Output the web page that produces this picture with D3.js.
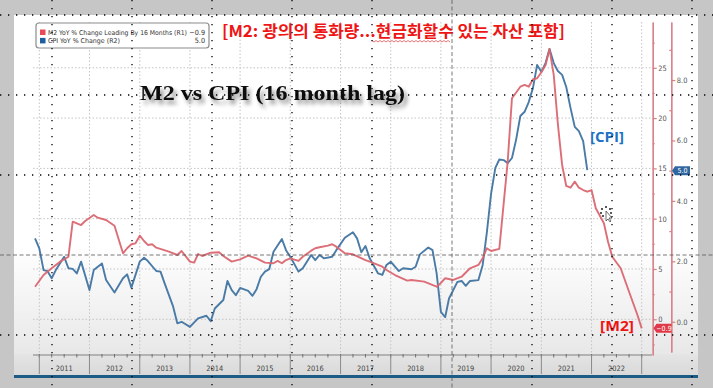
<!DOCTYPE html>
<html><head><meta charset="utf-8">
<script src="https://cdn.jsdelivr.net/npm/d3@7"></script>
<style>body{margin:0;background:#c6c6c6}svg{display:block}</style>
</head><body>
<svg id="c" width="713" height="388"></svg>
<script>
// ---------------- data ----------------
const m2Months = ["2010-12","2011-02","2011-04","2011-06","2011-08","2011-09","2011-11","2011-12","2012-02","2012-03","2012-05","2012-07","2012-09","2012-10","2012-11","2012-12","2013-01","2013-02","2013-03","2013-04","2013-05","2013-08","2013-10","2013-11","2014-01","2014-02","2014-03","2014-04","2014-06","2014-08","2014-09","2014-11","2015-01","2015-03","2015-05","2015-07","2015-09","2015-10","2015-11","2015-12","2016-01","2016-03","2016-04","2016-06","2016-07","2016-08","2016-10","2016-11","2016-12","2017-02","2017-04","2017-07","2017-08","2017-11","2017-12","2018-02","2018-05","2018-06","2018-09","2018-12","2019-01","2019-02","2019-04","2019-06","2019-08","2019-10","2019-11","2019-12","2020-01","2020-03","2020-05","2020-06","2020-08","2020-09","2020-10","2020-11","2020-12","2021-01","2021-02","2021-03","2021-04","2021-05","2021-06","2021-07","2021-08","2021-09","2021-10","2021-11","2021-12","2022-01","2022-02","2022-04","2022-05","2022-06","2022-08","2022-10","2022-12","2023-01"];
const m2Values = [3.24,4.40,5.07,5.73,6.22,9.70,9.37,9.77,10.37,10.10,9.87,9.30,6.56,7.06,7.46,7.55,8.31,7.78,7.39,7.46,7.12,6.72,6.39,6.79,5.73,5.63,6.49,6.29,6.62,6.66,6.29,5.73,5.96,6.32,6.06,5.63,5.57,5.80,5.57,5.89,6.06,5.80,6.22,6.82,7.06,7.16,7.32,7.46,7.22,6.56,6.46,5.89,5.73,5.23,4.90,4.40,3.84,3.91,3.74,3.24,3.61,4.08,3.91,4.23,5.07,5.40,6.06,7.06,6.79,7.00,15.67,21.97,23.12,23.29,23.12,23.86,23.96,24.55,25.28,26.87,24.29,19.41,15.34,13.25,13.08,13.68,13.08,12.85,12.68,12.85,11.03,9.54,7.71,6.22,5.07,2.74,0.43,-0.9];

const cpiMonths = ["2010-12","2011-01","2011-02","2011-03","2011-04","2011-05","2011-07","2011-08","2011-09","2011-10","2011-11","2012-01","2012-02","2012-04","2012-05","2012-07","2012-09","2012-10","2012-11","2013-01","2013-02","2013-03","2013-05","2013-06","2013-07","2013-09","2013-10","2013-11","2014-01","2014-03","2014-05","2014-06","2014-07","2014-09","2014-10","2014-11","2014-12","2015-01","2015-03","2015-04","2015-05","2015-06","2015-07","2015-08","2015-09","2015-11","2015-12","2016-01","2016-03","2016-04","2016-06","2016-07","2016-08","2016-09","2016-11","2016-12","2017-02","2017-04","2017-05","2017-06","2017-07","2017-08","2017-10","2017-11","2017-12","2018-01","2018-03","2018-04","2018-06","2018-07","2018-08","2018-10","2018-11","2018-12","2019-01","2019-02","2019-03","2019-05","2019-06","2019-07","2019-08","2019-10","2019-11","2019-12","2020-01","2020-02","2020-03","2020-04","2020-05","2020-06","2020-07","2020-08","2020-09","2020-10","2020-11","2020-12","2021-01","2021-02","2021-03","2021-04","2021-05","2021-06","2021-07","2021-08","2021-09","2021-10","2021-11","2021-12"];
const cpiValues = [2.76,2.43,1.71,1.68,1.44,1.71,2.15,1.77,1.75,1.60,1.99,1.05,1.71,1.93,1.38,0.97,1.44,1.57,1.13,1.99,2.12,2.01,1.68,1.66,1.27,0.50,-0.05,0.00,-0.17,0.11,0.20,0.02,0.44,0.72,1.35,1.05,0.88,1.12,1.02,0.86,1.08,1.49,1.66,1.74,2.32,2.74,2.37,2.15,1.66,1.77,2.21,2.04,2.21,2.10,2.15,2.37,2.78,2.96,2.76,2.30,2.51,2.10,1.60,1.55,1.88,1.99,1.68,1.77,1.74,1.82,2.23,2.46,2.37,1.60,0.33,0.15,0.77,1.32,1.35,1.19,1.35,1.38,1.88,2.94,4.23,5.09,5.37,5.35,5.25,5.42,6.02,6.81,6.95,7.27,7.74,8.50,8.27,8.57,9.03,8.56,8.30,8.17,7.77,7.08,6.45,6.31,5.98,5.02];

const years = [2011,2012,2013,2014,2015,2016,2017,2018,2019,2020,2021,2022];
const r1Ticks = [0,5,10,15,20,25];
const r1Minor = [-2.5,2.5,7.5,12.5,17.5,22.5,27.5];
const r2Ticks = [0,2,4,6,8];
const r2Minor = [1,3,5,7,9];
const legendLabels = ["M2 YoY % Change Leading By 16 Months (R1)","CPI YoY % Change (R2)"];
const lastM2 = -0.9, lastCPI = 5.0;

// ---------------- setup ----------------
const svg = d3.select("#c");
const parse = d3.timeParse("%Y-%m");
const RED = "#da6670", BLUE = "#4a7aa6";

const x = d3.scaleTime().domain([new Date(2011,0,1), new Date(2023,0,1)]).range([39.3, 641.7]);
const yR1 = d3.scaleLinear().domain([-3.55, 29.55]).range([355, 22]);
const yR2 = d3.scaleLinear().domain([-1.0, 9.92]).range([352, 22]);

const defs = svg.append("defs");
const g1 = defs.append("linearGradient").attr("id","bg").attr("x1",0).attr("y1",0).attr("x2",0).attr("y2",1);
g1.append("stop").attr("offset","0").attr("stop-color","#ffffff");
g1.append("stop").attr("offset","0.64").attr("stop-color","#ffffff");
g1.append("stop").attr("offset","0.80").attr("stop-color","#f3f3f3");
g1.append("stop").attr("offset","0.94").attr("stop-color","#e8e8e8");
g1.append("stop").attr("offset","0.945").attr("stop-color","#e4e4e4");
g1.append("stop").attr("offset","1").attr("stop-color","#d9d9d9");
const f = defs.append("filter").attr("id","sh").attr("x","-10%").attr("y","-30%").attr("width","130%").attr("height","180%");
f.append("feDropShadow").attr("dx",3).attr("dy",4).attr("stdDeviation",2.2).attr("flood-color","#000").attr("flood-opacity",0.45);

// panel
svg.append("rect").attr("x",0).attr("y",0).attr("width",713).attr("height",388).attr("fill","#c6c6c6");
svg.append("rect").attr("x",14).attr("y",15).attr("width",684).attr("height",360).attr("fill","url(#bg)");
svg.append("rect").attr("x",14).attr("y",375).attr("width",684).attr("height",3).attr("fill","#1b5b86");

// grid
const grid = svg.append("g");
grid.selectAll("line.h").data(r1Ticks).join("line")
  .attr("x1",33).attr("x2",652).attr("y1",d=>yR1(d)).attr("y2",d=>yR1(d))
  .attr("stroke","#c4c4c4").attr("stroke-width",1).attr("stroke-dasharray","1.5,2");
const yearStarts = years.map(y=>new Date(y,0,1)).concat([new Date(2023,0,1)]);
grid.selectAll("line.v").data(yearStarts).join("line")
  .attr("x1",d=>x(d)).attr("x2",d=>x(d)).attr("y1",22).attr("y2",355)
  .attr("stroke","#c4c4c4").attr("stroke-width",1).attr("stroke-dasharray","1.5,2");

// x axis
svg.append("line").attr("x1",33).attr("x2",652).attr("y1",355).attr("y2",355).attr("stroke","#808080");
const quarters = d3.timeMonth.range(new Date(2011,0,1), new Date(2023,0,2), 3);
svg.append("g").selectAll("line").data(quarters).join("line")
  .attr("x1",d=>x(d)).attr("x2",d=>x(d)).attr("y1",354).attr("y2",357.5).attr("stroke","#707070");
svg.append("g").selectAll("line").data(yearStarts).join("line")
  .attr("x1",d=>x(d)).attr("x2",d=>x(d)).attr("y1",355).attr("y2",374).attr("stroke","#8a8a8a");
svg.append("g").selectAll("text").data(years).join("text")
  .attr("x",d=>x(new Date(d,6,1))).attr("y",371).attr("text-anchor","middle")
  .attr("font-family","DejaVu Sans Condensed, DejaVu Sans").attr("font-size",7.4).attr("fill","#444").text(d=>d);

// lines
const line = (months, vals, sc) => d3.line().x((d,i)=>x(parse(months[i]))).y((d,i)=>sc(vals[i]))(vals);
svg.append("path").attr("d",line(cpiMonths,cpiValues,yR2)).attr("fill","none").attr("stroke",BLUE).attr("stroke-width",1.9).attr("stroke-linejoin","round");
svg.append("path").attr("d",line(m2Months,m2Values,yR1)).attr("fill","none").attr("stroke",RED).attr("stroke-width",1.9).attr("stroke-linejoin","round").attr("opacity",0.95);

// right axes
function styleAxis(g, col){
  g.select(".domain").attr("stroke",col).attr("stroke-width",1.2);
  g.selectAll(".tick line").attr("stroke",col).attr("stroke-width",1.2);
  g.selectAll(".tick text").attr("fill","#555").attr("font-family","DejaVu Sans Condensed, DejaVu Sans").attr("font-size",7.4);
}
const a1 = svg.append("g").attr("transform","translate(652.7,0)")
  .call(d3.axisRight(yR1).tickValues(r1Ticks).tickSize(4).tickSizeOuter(0).tickPadding(1.5).tickFormat(d3.format("d")));
styleAxis(a1,"#d77f86");
const a1m = svg.append("g").attr("transform","translate(652.7,0)")
  .call(d3.axisRight(yR1).tickValues(r1Minor).tickSize(2).tickSizeOuter(0).tickFormat(""));
styleAxis(a1m,"#d77f86");
const a2 = svg.append("g").attr("transform","translate(671.3,0)")
  .call(d3.axisRight(yR2).tickValues(r2Ticks).tickSize(4).tickSizeOuter(0).tickPadding(1.5).tickFormat(d3.format(".1f")));
styleAxis(a2,"#d77f86");
const a2m = svg.append("g").attr("transform","translate(671.3,0)")
  .call(d3.axisLeft(yR2).tickValues(r2Minor).tickSize(2).tickSizeOuter(0).tickFormat(""));
styleAxis(a2m,"#d77f86");

// value flags
function flag(xl, yc, w, col, txt){
  const g = svg.append("g");
  g.append("path").attr("d",`M${xl},${yc} L${xl+3},${yc-4.5} L${xl+w},${yc-4.5} L${xl+w},${yc+4.5} L${xl+3},${yc+4.5} Z`).attr("fill",col);
  g.append("text").attr("x",xl+3+(w-3)/2).attr("y",yc+2.6).attr("text-anchor","middle").attr("fill","#fff")
   .attr("font-family","DejaVu Sans Condensed, DejaVu Sans").attr("font-size",7).text(txt);
}
flag(653.5, yR1(lastM2), 18, "#e03a48", d3.format(".1f")(lastM2));
flag(672, yR2(lastCPI), 18, "#2f66a0", d3.format(".1f")(lastCPI));

// legend
const lg = svg.append("g");
lg.append("rect").attr("x",36).attr("y",23).attr("width",173).attr("height",25).attr("rx",3)
  .attr("fill","#fff").attr("stroke","#8c8c8c").attr("stroke-width",1.2);
[[RED,"#e84a55"],[BLUE,"#1f5e9e"]].forEach((c,i)=>{
  lg.append("rect").attr("x",40).attr("y",29.5+i*8.4).attr("width",5.5).attr("height",5.5).attr("fill",c[1]);
  lg.append("text").attr("x",48).attr("y",35+i*8.4).attr("font-family","DejaVu Sans Condensed, DejaVu Sans")
    .attr("font-size",6.6).attr("fill","#333").attr("textLength",i==0?139:72).attr("lengthAdjust","spacingAndGlyphs").text(legendLabels[i]);
  lg.append("text").attr("x",205).attr("y",35+i*8.4).attr("text-anchor","end").attr("font-family","DejaVu Sans Condensed, DejaVu Sans")
    .attr("font-size",7.2).attr("fill","#333").text(d3.format(".1f")(i==0?lastM2:lastCPI));
});

// annotations
svg.append("text").attr("x",222).attr("y",37).attr("font-family","Noto Sans CJK KR").attr("font-weight","bold")
  .attr("font-size",16).attr("fill","#ee1515").attr("textLength",343).attr("lengthAdjust","spacingAndGlyphs")
  .text("[M2: 광의의 통화량...현금화할수 있는 자산 포함]");
(function(){
  let p = "M372,40.5"; for(let xx=372, k=0; xx<450; xx+=2, k++){ p += ` L${xx+2},${k%2?40.5:42}`; }
  svg.append("path").attr("d",p).attr("fill","none").attr("stroke","#e23a3a").attr("stroke-width",0.7);
})();
svg.append("text").attr("x",140).attr("y",100).attr("font-family","Liberation Serif, Times New Roman, serif").attr("font-weight","bold")
  .attr("font-size",22).attr("fill","#111").attr("filter","url(#sh)").attr("textLength",265).attr("lengthAdjust","spacingAndGlyphs")
  .text("M2 vs CPI (16 month lag)");
svg.append("text").attr("x",590).attr("y",142).attr("font-family","Open Sans, Noto Sans").attr("font-weight","bold")
  .attr("font-size",14).attr("fill","#1d72c4").attr("textLength",34).attr("lengthAdjust","spacingAndGlyphs").text("[CPI]");
svg.append("text").attr("x",600).attr("y",331).attr("font-family","Open Sans, Noto Sans").attr("font-weight","bold")
  .attr("font-size",15).attr("fill","#ee1515").attr("textLength",34).attr("lengthAdjust","spacingAndGlyphs").text("[M2]");

// cursor mark
const cur = svg.append("g").attr("transform","translate(606,213)");
[[-4,-4],[0,-6],[4,-4],[-5,0],[5,0],[-3,3]].forEach(d=>cur.append("circle").attr("cx",d[0]).attr("cy",d[1]).attr("r",1).attr("fill","#222"));
cur.append("path").attr("d","M0,-2 L0,8 L2,6 L4,9 L5,8 L3,5 L6,5 Z").attr("fill","#fff").attr("stroke","#333").attr("stroke-width",0.7);

// overlay guide grid
const ov = svg.append("g");
const vx = d3.range(52, 713, 80), hy = d3.range(15, 388, 80);
ov.selectAll("line.v").data(vx).join("line").attr("x1",d=>d).attr("x2",d=>d).attr("y1",0).attr("y2",388)
  .attr("stroke",d=>d===452?"#555":"#000").attr("stroke-width",d=>d===452?0.8:1.3)
  .attr("stroke-dasharray",d=>d===452?"4,2.5":"1.3,6.7");
ov.selectAll("line.h").data(hy).join("line").attr("x1",0).attr("x2",713).attr("y1",d=>d).attr("y2",d=>d)
  .attr("stroke",d=>d===255?"#555":"#000").attr("stroke-width",d=>d===255?0.8:1.3)
  .attr("stroke-dasharray",d=>d===255?"4,2.5":"1.3,6.7");
</script>
</body></html>
